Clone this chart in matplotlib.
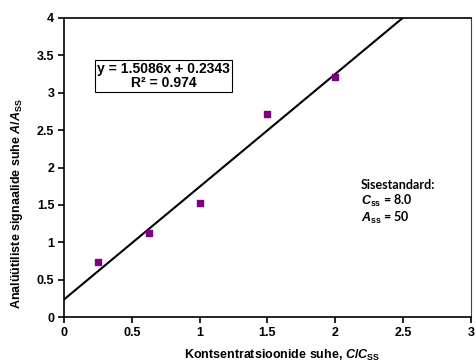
import numpy as np
import matplotlib
matplotlib.use("Agg")
import matplotlib.pyplot as plt

plt.rcParams['font.family'] = 'Liberation Sans'
plt.rcParams['font.weight'] = 'bold'
plt.rcParams['mathtext.fontset'] = 'custom'
plt.rcParams['mathtext.rm'] = 'Liberation Sans:bold'
plt.rcParams['mathtext.it'] = 'Liberation Sans:bold:italic'
plt.rcParams['mathtext.bf'] = 'Liberation Sans:bold'

# data
conc_ratio = [0.25, 0.625, 1.0, 1.5, 2.0]
signal_ratio = [0.73, 1.13, 1.52, 2.72, 3.21]
slope, intercept = 1.5086, 0.2343
r2 = 0.974
x_ticks = [0, 0.5, 1, 1.5, 2, 2.5, 3]
y_ticks = [0, 0.5, 1, 1.5, 2, 2.5, 3, 3.5, 4]

fig = plt.figure(figsize=(4.76, 3.63), dpi=100)
ax = fig.add_axes([64/476, 1 - 317/363, (471-64)/476, (317-18)/363])

xf = np.linspace(0, (4 - intercept) / slope, 50)
ax.plot(xf, slope * xf + intercept, color='black', lw=1.5, zorder=2)
ax.scatter(conc_ratio, signal_ratio, marker='s', s=20, color='#800080', zorder=3)

ax.set_xlim(0, 3)
ax.set_ylim(0, 4)
ax.set_xticks(x_ticks)
ax.set_yticks(y_ticks)
ax.set_xticklabels([f'{v:g}' for v in x_ticks], fontweight='bold')
ax.set_yticklabels([f'{v:g}' for v in y_ticks], fontweight='bold')
ax.tick_params(direction='out', length=4, width=1.2, labelsize=9, pad=3)
for s in ['left', 'bottom', 'top']:
    ax.spines[s].set_linewidth(1.2)
ax.spines['right'].set_linewidth(0.8)
ax.spines['right'].set_color('#444444')

ax.set_xlabel(r'Kontsentratsioonide suhe, $C$/$C_{\mathrm{SS}}$', fontsize=9, fontweight='bold')
ax.xaxis.set_label_coords(0.536, -0.103)
ax.set_ylabel(r'Analüütiliste signaalide suhe $A$/$A_{\mathrm{SS}}$', fontsize=9, fontweight='bold')
ax.yaxis.set_label_coords(-0.097, 0.378)

ax.text(0.733, 3.22, f'y = {slope}x + {intercept}\nR² = {r2}', ha='center', va='center',
        fontsize=10, fontweight='bold', linespacing=1.0,
        bbox=dict(boxstyle='square,pad=0.15', fc='white', ec='black', lw=0.8))

sis = dict(fontsize=9, family='Lato', fontweight='bold', va='center')
ax.text(2.19, 1.77, 'Sisestandard:', **sis)
ax.text(2.19, 1.55, r'$C_{\mathrm{ss}}$ = 8.0', **sis)
ax.text(2.19, 1.33, r'$A_{\mathrm{ss}}$ = 50', **sis)

fig.savefig('out.png', dpi=100)
